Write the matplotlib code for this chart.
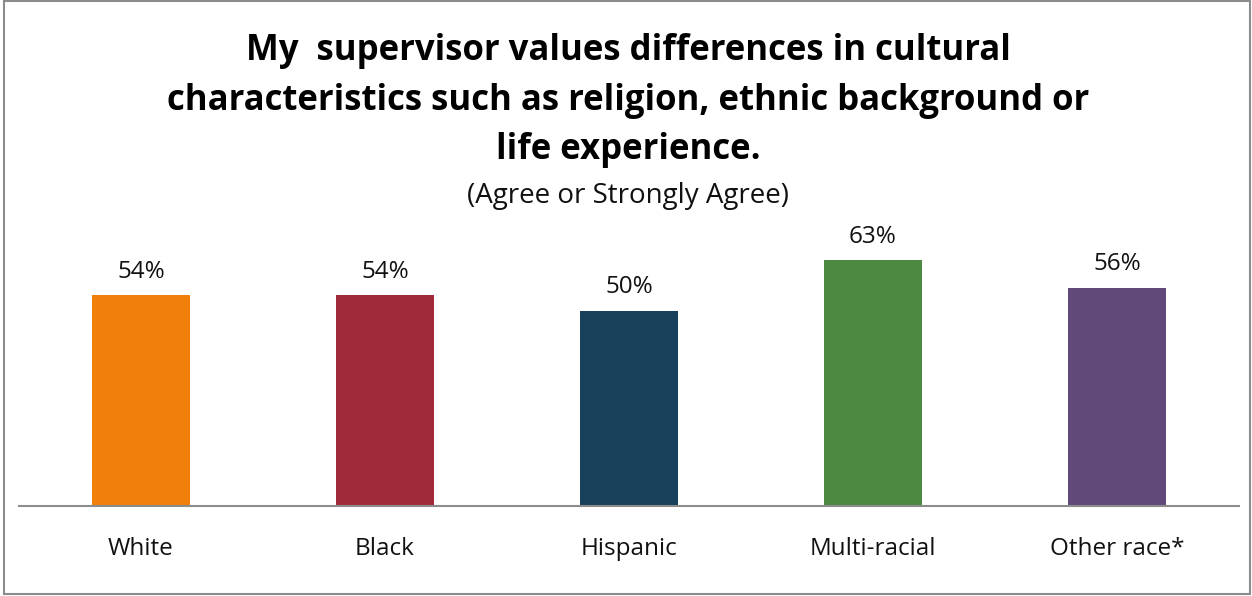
import matplotlib
matplotlib.use("Agg")
import matplotlib.pyplot as plt
from matplotlib.patches import Rectangle

categories = ["White", "Black", "Hispanic", "Multi-racial", "Other race*"]
values = [54, 54, 50, 63, 56]
labels = ["54%", "54%", "50%", "63%", "56%"]
colors = ["#F0800A", "#A12A38", "#17405A", "#4E8942", "#614A7A"]
title_lines = ["My  supervisor values differences in cultural",
               "characteristics such as religion, ethnic background or",
               "life experience."]
subtitle = "(Agree or Strongly Agree)"

W, H = 1252, 596
fig = plt.figure(figsize=(W / 100, H / 100), dpi=100)
fam = ["Open Sans", "DejaVu Sans"]

ax = fig.add_axes([19 / W, (H - 506) / H, 1220 / W, 390 / H])
x = list(range(len(categories)))
ax.bar(x, values, width=0.4, color=colors)
ax.set_xlim(-0.5, len(categories) - 0.5)
ax.set_ylim(0, 100)
for i, (v, lab) in enumerate(zip(values, labels)):
    ax.annotate(lab, (i, v), xytext=(0, 17), textcoords="offset points",
                ha="center", va="center", fontsize=17.5, family=fam, color="#111111")
ax.set_xticks(x)
ax.set_xticklabels(categories, fontsize=17.5, family=fam, color="#111111")
ax.tick_params(axis="x", length=0, pad=22)
ax.set_yticks([])
for s in ["top", "right", "left"]:
    ax.spines[s].set_visible(False)
ax.spines["bottom"].set_color("#8C8C8C")
ax.spines["bottom"].set_linewidth(1.5)

ys = [51, 101, 150]
for t, y in zip(title_lines, ys):
    fig.text(628 / W, 1 - y / H, t, ha="center", va="center", fontsize=25,
             fontweight="bold", family=fam, color="black")
fig.text(628 / W, 1 - 196 / H, subtitle, ha="center", va="center", fontsize=20,
         family=fam, color="#111111")

fig.patches.append(Rectangle((4 / W, 2 / H), 1246 / W, 593 / H, transform=fig.transFigure,
                             fill=False, edgecolor="#8C8C8C", linewidth=1.5))
fig.savefig("out.png", dpi=100)
